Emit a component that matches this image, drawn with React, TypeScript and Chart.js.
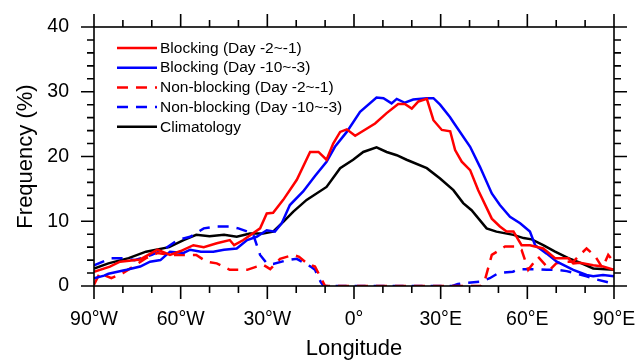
import React, { useEffect, useRef } from 'react';
import { Chart, registerables } from 'chart.js';

Chart.register(...registerables);

// ---------- data ----------
const lonTicks = [-90, -60, -30, 0, 30, 60, 90];
const lonTickLabels = ['90°W', '60°W', '30°W', '0°', '30°E', '60°E', '90°E'];
const freqTicks = [0, 10, 20, 30, 40];
const freqTickLabels = ['0', '10', '20', '30', '40'];

const seriesLabels = [
  'Blocking (Day -2~-1)',
  'Blocking (Day -10~-3)',
  'Non-blocking (Day -2~-1)',
  'Non-blocking (Day -10~-3)',
  'Climatology',
];

// Blocking (Day -2~-1)
const blockShortLon = [-90, -84.5, -81, -74, -68, -63.7, -60, -55.6, -52, -47.5, -43, -41.5, -38.3, -32.5, -30.2, -28, -24.5, -19.8, -15.2, -12.3, -9.5, -7.2, -4.8, -2.5, 0.4, 7.3, 11.3, 15.3, 17.6, 20, 22.3, 25.2, 27.5, 30.4, 33.3, 35, 37.3, 40.2, 43, 47.7, 50.5, 52.8, 55.2, 58, 60.9, 65.5, 69.6, 74.2, 75.9, 78.2, 82.8, 86.2, 90];
const blockShortVal = [2.2, 3.0, 3.75, 4.1, 5.6, 4.8, 5.4, 6.3, 6.0, 6.6, 7.1, 6.3, 7.1, 8.9, 11.2, 11.3, 13.3, 16.4, 20.7, 20.7, 19.5, 22.0, 23.8, 24.2, 23.2, 25.1, 26.7, 28.1, 28.1, 27.4, 28.5, 28.9, 25.6, 24.1, 23.9, 21.0, 19.2, 17.9, 14.8, 10.4, 9.2, 8.4, 8.4, 6.3, 6.3, 5.8, 4.3, 4.3, 3.5, 3.6, 3.2, 3.0, 2.5];

// Blocking (Day -10~-3)
const blockLongLon = [-90, -86.5, -85, -78.7, -74, -70.6, -67, -63.7, -59, -56.7, -53, -48.7, -45, -40.6, -37, -33.7, -30.2, -27.4, -25, -22.2, -17.6, -13.5, -9.5, -6.6, -2.5, 2.1, 7.8, 10.2, 13, 14.8, 17.6, 20.5, 25.2, 27.5, 29.8, 33.2, 34.4, 40.2, 43.6, 47.7, 50.5, 54, 57.5, 60.9, 62.7, 66.7, 70.2, 75.9, 80.5, 82.8, 86.2, 90];
const blockLongVal = [1.2, 1.6, 1.9, 2.5, 3.0, 3.75, 4.0, 5.3, 5.1, 5.6, 5.3, 5.3, 5.6, 5.8, 7.1, 7.6, 8.6, 8.4, 9.7, 12.5, 14.6, 17.0, 19.2, 21.5, 23.8, 26.9, 29.1, 29.0, 28.2, 28.9, 28.3, 28.8, 29.0, 29.0, 28.0, 26.1, 25.3, 21.5, 18.4, 14.3, 12.5, 10.7, 9.7, 8.4, 6.3, 5.0, 3.75, 2.5, 1.7, 1.5, 1.7, 1.5];

// Non-blocking (Day -2~-1)
const nonBlockShortLon = [-90, -88, -84, -80, -76.4, -72, -68, -64, -54.6, -51, -47.5, -43, -37, -33.7, -31.5, -29, -25.6, -21, -19, -16, -13.5, -10, 0, 20, 44, 45.3, 47.7, 52.3, 56.4, 58, 60.3, 63.7, 67.8, 70, 73.6, 75.9, 78.2, 80.5, 83.5, 86, 88, 90];
const nonBlockShortVal = [0.2, 2.0, 1.2, 2.0, 3.0, 4.3, 5.1, 4.8, 4.8, 3.75, 3.5, 2.5, 2.5, 3.0, 3.3, 2.6, 4.2, 4.8, 4.5, 3.4, 3.0, 0, 0, 0, 0, 0.9, 4.8, 6.1, 6.1, 5.6, 2.5, 4.5, 2.5, 3.5, 3.75, 3.75, 4.8, 5.8, 4.6, 2.8, 4.8, 3.7];

// Non-blocking (Day -10~-3)
const nonBlockLongLon = [-90, -84, -80, -76, -70, -66, -61, -56.7, -52, -47.5, -43, -40, -35, -32.5, -30.2, -28, -23, -19.8, -15, -13.5, -11.5, -10.5, 0, 20, 34, 36, 39, 43.6, 47, 50, 55, 57, 63, 66.7, 70, 73.6, 77, 80.5, 84, 88.6, 90];
const nonBlockLongVal = [3.2, 4.3, 4.3, 4.0, 4.8, 5.6, 7.1, 7.6, 8.9, 9.2, 9.2, 8.9, 8.1, 4.8, 3.5, 3.4, 4.0, 4.2, 3.0, 2.5, 0.6, 0, 0, 0, 0, 0.3, 0.5, 0.65, 1.2, 2.0, 2.2, 2.6, 2.6, 2.5, 2.5, 2.3, 1.9, 1.5, 1.0, 0.5, 0.3];

// Climatology
const climLon = [-90, -85, -78, -72, -64, -59, -54.6, -50, -45, -40.6, -36, -31.5, -28, -24.5, -21, -16.4, -9.5, -4.8, -0.3, 3.2, 7.8, 11.3, 14.8, 18.2, 25.2, 29.8, 34.4, 37.8, 40.7, 45.9, 49.3, 55.2, 58.7, 61.5, 65.5, 69.6, 74.2, 78.2, 82.8, 90];
const climVal = [2.7, 3.5, 4.3, 5.3, 6.0, 7.1, 7.9, 7.7, 7.9, 7.6, 8.1, 8.1, 8.4, 9.9, 11.5, 13.3, 15.3, 18.2, 19.5, 20.7, 21.4, 20.7, 20.2, 19.5, 18.2, 16.6, 14.8, 12.8, 11.7, 8.9, 8.4, 7.9, 7.4, 7.2, 6.3, 5.3, 4.3, 3.6, 2.7, 2.5];

const FONT = '"Liberation Sans", Arial, Helvetica, sans-serif';

const pts = (xs: number[], ys: number[]) => xs.map((x, i) => ({ x, y: ys[i] }));

const frameTicksPlugin = {
  id: 'frameTicks',
  afterDatasetsDraw(chart: any) {
    const { ctx, chartArea: a, scales } = chart;
    const xs = scales.x;
    const ys = scales.y;
    ctx.save();
    ctx.strokeStyle = '#000';
    ctx.lineWidth = 1.6;
    ctx.setLineDash([]);
    ctx.strokeRect(a.left, a.top, a.right - a.left, a.bottom - a.top);
    ctx.beginPath();
    for (let v = -90; v <= 90; v += 10) {
      const px = xs.getPixelForValue(v);
      const len = v % 30 === 0 ? 13 : 7;
      ctx.moveTo(px, a.bottom);
      ctx.lineTo(px, a.bottom + len);
      ctx.moveTo(px, a.top);
      ctx.lineTo(px, a.top - len);
    }
    for (let v = 0; v <= 40; v += 2) {
      const py = ys.getPixelForValue(v);
      const len = v % 10 === 0 ? 13 : 7;
      ctx.moveTo(a.left, py);
      ctx.lineTo(a.left - len, py);
      ctx.moveTo(a.right, py);
      ctx.lineTo(a.right + len, py);
    }
    ctx.stroke();
    ctx.restore();
  },
};

const legendPlugin = {
  id: 'insideLegend',
  afterDraw(chart: any) {
    const { ctx, chartArea: a } = chart;
    const ds = chart.data.datasets;
    ctx.save();
    ctx.font = `15.5px ${FONT}`;
    ctx.textBaseline = 'middle';
    ctx.fillStyle = '#000';
    ds.forEach((d: any, i: number) => {
      const y = a.top + 21 + i * 19.7;
      const x0 = a.left + 23;
      ctx.beginPath();
      ctx.strokeStyle = d.borderColor;
      ctx.lineWidth = d.borderWidth;
      ctx.setLineDash(d.borderDash || []);
      ctx.moveTo(x0, y);
      ctx.lineTo(x0 + 40, y);
      ctx.stroke();
      ctx.setLineDash([]);
      ctx.fillText(d.label, x0 + 43, y + 0.5);
    });
    ctx.restore();
  },
};

export default function App() {
  const ref = useRef<HTMLCanvasElement>(null);
  useEffect(() => {
    if (!ref.current) return;
    const dash = [11, 8];
    const mk = (label: string, data: any, color: string, dashed: boolean) => ({
      label,
      data,
      borderColor: color,
      backgroundColor: color,
      borderWidth: 2.5,
      borderDash: dashed ? dash : [],
      pointRadius: 0,
      tension: 0,
      fill: false,
    });
    const chart = new Chart(ref.current, {
      type: 'line',
      data: {
        datasets: [
          mk(seriesLabels[0], pts(blockShortLon, blockShortVal), '#ff0000', false),
          mk(seriesLabels[1], pts(blockLongLon, blockLongVal), '#0000ff', false),
          mk(seriesLabels[2], pts(nonBlockShortLon, nonBlockShortVal), '#ff0000', true),
          mk(seriesLabels[3], pts(nonBlockLongLon, nonBlockLongVal), '#0000ff', true),
          mk(seriesLabels[4], pts(climLon, climVal), '#000000', false),
        ],
      },
      options: {
        animation: false,
        responsive: false,
        layout: { padding: { top: 27, right: 21, left: 0, bottom: 0 } },
        plugins: { legend: { display: false }, tooltip: { enabled: false } },
        scales: {
          x: {
            type: 'linear',
            min: -90,
            max: 90,
            grid: { display: false, drawTicks: false },
            border: { display: false },
            afterBuildTicks: (s: any) => {
              s.ticks = lonTicks.map((v) => ({ value: v }));
            },
            ticks: {
              autoSkip: false,
              maxRotation: 0,
              padding: 22,
              color: '#000',
              font: { family: FONT, size: 19.5 },
              callback: (v: any) => lonTickLabels[lonTicks.indexOf(Number(v))],
            },
            title: {
              display: true,
              text: 'Longitude',
              color: '#000',
              font: { family: FONT, size: 22 },
              padding: { top: 0, bottom: -2 },
            },
            afterFit: (s: any) => {
              s.height = 74;
              s.paddingLeft = 0;
              s.paddingRight = 0;
            },
          },
          y: {
            type: 'linear',
            min: 0,
            max: 40,
            grid: { display: false, drawTicks: false },
            border: { display: false },
            afterBuildTicks: (s: any) => {
              s.ticks = freqTicks.map((v) => ({ value: v }));
            },
            ticks: {
              autoSkip: false,
              padding: 25,
              color: '#000',
              font: { family: FONT, size: 19.5 },
              callback: (v: any) => freqTickLabels[freqTicks.indexOf(Number(v))],
            },
            title: {
              display: true,
              text: 'Frequency (%)',
              color: '#000',
              font: { family: FONT, size: 22 },
              padding: { top: 13, bottom: 0 },
            },
            afterFit: (s: any) => {
              s.width = 94;
              s.paddingTop = 0;
              s.paddingBottom = 0;
            },
          },
        },
      },
      plugins: [frameTicksPlugin, legendPlugin],
    });
    return () => chart.destroy();
  }, []);
  return (
    <canvas
      ref={ref}
      width={635}
      height={360}
      style={{ position: 'absolute', left: 0, top: 0, width: 635, height: 360, background: '#fff' }}
    />
  );
}
